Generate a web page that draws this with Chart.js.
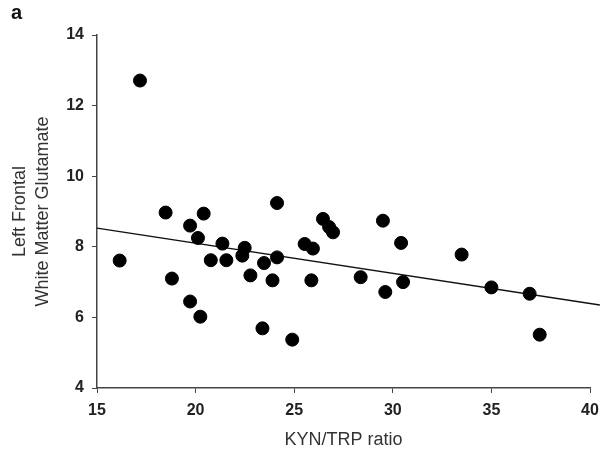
<!DOCTYPE html>
<html>
<head>
<meta charset="utf-8">
<script src="https://cdn.jsdelivr.net/npm/chart.js@4"></script>
<style>
    html, body { margin: 0; padding: 0; background: #fff; }
    #wrap { position: relative; width: 613px; height: 451px; }
    #panel { position: absolute; left: 11px; top: 1px; font: bold 20px "Liberation Sans", Arial, sans-serif; color: #111; }
</style>
</head>
<body>
<div id="wrap">
    <canvas id="scatterChart" width="613" height="451"></canvas>
    <div id="panel">a</div>
</div>
<script>
// KYN/TRP ratio vs left frontal white matter glutamate
const kynTrp = [16.15, 17.18, 18.48, 18.8, 19.72, 20.41, 20.12, 19.72, 20.24, 20.77,
    21.36, 21.56, 22.49, 22.37, 22.78, 23.47, 23.39, 24.13, 24.13, 23.9,
    24.9, 25.53, 25.95, 25.87, 26.46, 26.77, 26.97, 28.37, 29.5, 29.62,
    30.42, 30.52, 33.49, 35.0, 36.94, 37.45];
const glutamate = [7.61, 12.71, 8.97, 7.10, 8.60, 8.94, 8.25, 6.45, 6.02, 7.62,
    8.09, 7.62, 7.97, 7.75, 7.19, 7.54, 5.69, 9.24, 7.70, 7.05,
    5.37, 8.08, 7.95, 7.05, 8.79, 8.56, 8.41, 7.14, 8.74, 6.72,
    8.11, 7.00, 7.78, 6.85, 6.67, 5.51];

// regression line end points
const fitX = [15, 40.5];
const fitY = [8.53, 6.35];

const xTicks = [15, 20, 25, 30, 35, 40];
const yTicks = [4, 6, 8, 10, 12, 14];

const tickFont = { family: '"Liberation Sans", Arial, sans-serif', size: 16, weight: 'bold' };
const titleFont = { family: '"Liberation Sans", Arial, sans-serif', size: 18, lineHeight: 1.25 };

document.addEventListener('DOMContentLoaded', function() {
    const ctx = document.getElementById('scatterChart').getContext('2d');
    new Chart(ctx, {
        type: 'scatter',
        data: {
            datasets: [{
                label: 'Subjects',
                data: kynTrp.map((x, i) => ({ x: x, y: glutamate[i] })),
                backgroundColor: '#000',
                borderColor: '#000',
                pointRadius: 6.5,
                order: 1
            }, {
                label: 'Fit',
                type: 'line',
                data: fitX.map((x, i) => ({ x: x, y: fitY[i] })),
                borderColor: '#111',
                borderWidth: 1.4,
                pointRadius: 0,
                fill: false,
                clip: false,
                order: 2
            }]
        },
        options: {
            responsive: false,
            animation: false,
            layout: { padding: { left: 0, right: 23, top: 35, bottom: 0 } },
            plugins: {
                legend: { display: false },
                tooltip: { enabled: false }
            },
            scales: {
                x: {
                    type: 'linear',
                    min: 15,
                    max: 40,
                    afterBuildTicks: function(axis) {
                        axis.ticks = xTicks.map(v => ({ value: v }));
                    },
                    afterFit: function(axis) { axis.height = 63; },
                    grid: {
                        display: true,
                        drawOnChartArea: false,
                        drawTicks: true,
                        tickLength: 5,
                        color: '#444'
                    },
                    border: { display: true, color: '#444', width: 1.5 },
                    ticks: { color: '#222', font: tickFont, padding: 8, maxRotation: 0 },
                    title: {
                        display: true,
                        text: 'KYN/TRP ratio',
                        color: '#333',
                        font: titleFont,
                        padding: { top: 4, bottom: 0 }
                    }
                },
                y: {
                    type: 'linear',
                    min: 4,
                    max: 14,
                    afterBuildTicks: function(axis) {
                        axis.ticks = yTicks.map(v => ({ value: v }));
                    },
                    afterFit: function(axis) { axis.width = 97; },
                    grid: {
                        display: true,
                        drawOnChartArea: false,
                        drawTicks: true,
                        tickLength: 5,
                        color: '#444'
                    },
                    border: { display: true, color: '#444', width: 1.5 },
                    ticks: { color: '#222', font: tickFont, padding: 8 },
                    title: {
                        display: true,
                        text: ['Left Frontal', 'White Matter Glutamate'],
                        color: '#333',
                        font: titleFont,
                        padding: { top: 9, bottom: 4 }
                    }
                }
            }
        }
    });
});
</script>
</body>
</html>
